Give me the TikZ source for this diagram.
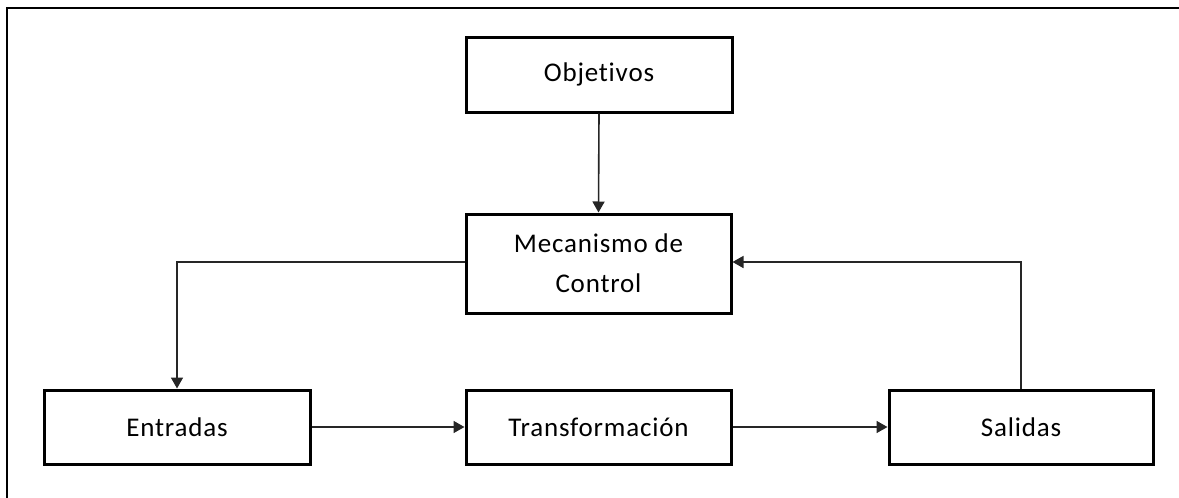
\documentclass[tikz,border=0pt]{standalone}
\usepackage{fontspec}
\setmainfont[Ligatures=NoCommon,LetterSpace=3]{Carlito}
\usetikzlibrary{arrows.meta}
\begin{document}
\begin{tikzpicture}[x=1pt,y=-1pt,
  box/.style={draw=black, line width=3pt, fill=white, inner sep=0pt, align=center,
    font=\fontsize{27}{40}\selectfont},
  conn/.style={line width=1.6pt, draw=black!85, -{Triangle[length=11pt,width=12pt]}}]
\useasboundingbox (0,0) rectangle (1179,498);
\draw[line width=1.5pt] (7,498) -- (7,8) -- (1179,8);
\node[box, minimum width=266pt, minimum height=75pt] (obj) at (599,74.5) {Objetivos};
\node[box, minimum width=265pt, minimum height=99pt] (mec) at (598.5,263.5) {Mecanismo de\\Control};
\node[box, minimum width=266pt, minimum height=74pt] (ent) at (177,427) {Entradas};
\node[box, minimum width=265pt, minimum height=74pt] (tra) at (598.5,427) {Transformación};
\node[box, minimum width=264pt, minimum height=74pt] (sal) at (1021,427) {Salidas};
\draw[conn] (obj.south) -- (mec.north);
\draw[conn] (mec.west |- 0,262) -| (ent.north);
\draw[conn] (ent.east) -- (tra.west);
\draw[conn] (tra.east) -- (sal.west);
\draw[conn] (sal.north) |- (mec.east |- 0,262);
\end{tikzpicture}
\end{document}
